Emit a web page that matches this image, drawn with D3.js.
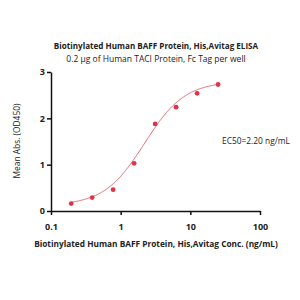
<!DOCTYPE html>
<html>
<head>
<meta charset="utf-8">
<script src="https://cdn.jsdelivr.net/npm/d3@7"></script>
<style>
  body { margin: 0; background: #fff; }
  text { font-family: "Open Sans", "Liberation Sans", sans-serif; fill: #222; }
</style>
</head>
<body>
<div id="chart"></div>
<script>

// data
var conc = [0.195, 0.39, 0.78, 1.56, 3.125, 6.25, 12.5, 25];
var absorb = [0.16, 0.29, 0.46, 1.03, 1.88, 2.24, 2.54, 2.73];
var xTicks = [0.1, 1, 10, 100];
var yTicks = [0, 1, 2, 3];

// 4PL fit parameters
var fitBottom = 0.12, fitTop = 2.8, fitEC50 = 2.2, fitHill = 1.5;

var width = 300;
var height = 300;
var margin = ({top: 72, right: 40, bottom: 89, left: 51});

var svg = d3.select("#chart")
  .append("svg")
    .attr("width", width)
    .attr("height", height)

var xScale = d3.scaleLog()
  .domain([0.1, 100])
  .range([margin.left, width - margin.right])

var yScale = d3.scaleLinear()
  .domain([0, 3])
  .range([height - margin.bottom, margin.top])

// titles
svg.append("text")
    .attr("x", 156).attr("y", 49)
    .attr("text-anchor", "middle")
    .attr("font-size", 8.1)
    .attr("font-weight", "bold")
    .text("Biotinylated Human BAFF Protein, His,Avitag ELISA");

svg.append("text")
    .attr("x", 156).attr("y", 61.5)
    .attr("text-anchor", "middle")
    .attr("font-size", 8.5)
    .text("0.2 \u03bcg of Human TACI Protein, Fc Tag per well");

// axes
var xAxis = svg.append("g")
    .attr("transform", `translate(0,${height - margin.bottom})`)
    .call(d3.axisBottom(xScale).tickValues(xTicks).tickSize(4).tickSizeOuter(0)
      .tickFormat(d => d3.format("~g")(d)))

var yAxis = svg.append("g")
    .attr("transform", `translate(${margin.left},0)`)
    .call(d3.axisLeft(yScale).tickValues(yTicks).tickSize(4).tickSizeOuter(0)
      .tickFormat(d3.format("d")))

svg.selectAll(".domain, .tick line")
    .attr("stroke", "#111")
    .attr("stroke-width", 1.5)

svg.selectAll(".tick text")
    .attr("font-size", 9)
    .attr("font-weight", "bold")
    .attr("font-family", "\"Open Sans\", sans-serif")
    .attr("fill", "#222")

xAxis.selectAll(".tick text").attr("dy", "1.3em")
yAxis.selectAll(".tick text").attr("x", -6)

// axis labels
svg.append("text")
    .attr("x", 156).attr("y", 246.5)
    .attr("text-anchor", "middle")
    .attr("font-size", 8.3)
    .attr("font-weight", "bold")
    .text("Biotinylated Human BAFF Protein, His,Avitag Conc. (ng/mL)");

svg.append("text")
    .attr("transform", "rotate(-90)")
    .attr("x", -141).attr("y", 20)
    .attr("text-anchor", "middle")
    .attr("font-size", 8.4)
    .text("Mean Abs. (OD450)");

// fitted curve
var fit = function(c) {
    return fitBottom + (fitTop - fitBottom) / (1 + Math.pow(fitEC50 / c, fitHill));
};
var curveX = d3.range(0, 201).map(i => conc[0] * Math.pow(conc[conc.length - 1] / conc[0], i / 200));

svg.append("path")
    .datum(curveX)
    .attr("fill", "none")
    .attr("stroke", "#e06a74")
    .attr("stroke-width", 1)
    .attr("d", d3.line()
        .x(d => xScale(d))
        .y(d => yScale(fit(d))))

// points
svg.selectAll("circle.pt")
    .data(d3.zip(conc, absorb))
    .join("circle")
    .attr("class", "pt")
    .attr("cx", d => xScale(d[0]))
    .attr("cy", d => yScale(d[1]))
    .attr("r", 2.4)
    .attr("fill", "#e0324a")

svg.append("text")
    .attr("x", 222).attr("y", 144)
    .attr("font-size", 8.4)
    .text("EC50=2.20 ng/mL");

</script>
</body>
</html>
